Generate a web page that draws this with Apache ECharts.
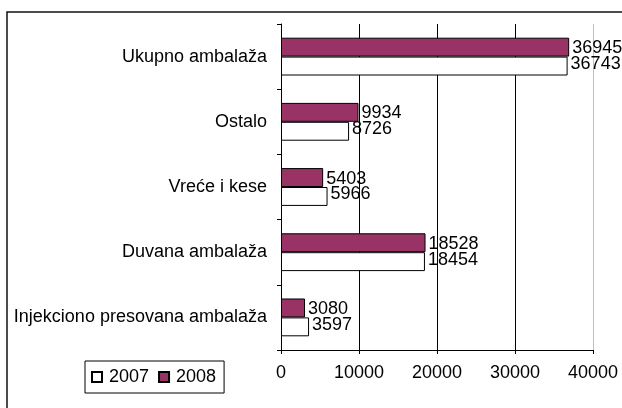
<!DOCTYPE html>
<html>
<head>
<meta charset="utf-8">
<script src="https://cdn.jsdelivr.net/npm/echarts@6/dist/echarts.min.js"></script>
<style>
  html, body { margin: 0; padding: 0; background: #fff; }
  #chart { width: 622px; height: 408px; }
</style>
</head>
<body>
<div id="chart"></div>
<script>
// kategorije odozdo prema gore
var categories = ['Injekciono presovana ambalaža', 'Duvana ambalaža', 'Vreće i kese', 'Ostalo', 'Ukupno ambalaža'];
var years = ['2007', '2008'];
var values2007 = [3597, 18454, 5966, 8726, 36743];
var values2008 = [3080, 18528, 5403, 9934, 36945];
var xTicks = [0, 10000, 20000, 30000, 40000];

var font = "'Liberation Sans', Arial, sans-serif";

var myChart = echarts.init(document.getElementById('chart'));

var option = {
    animation: false,
    backgroundColor: '#fff',
    textStyle: { fontFamily: font },
    graphic: [{
        type: 'rect',
        shape: { x: 7, y: 12, width: 700, height: 500 },
        style: { fill: 'none', stroke: '#111', lineWidth: 1.5 },
        silent: true
    }],
    legend: {
        data: years,
        left: 85,
        top: 361,
        orient: 'horizontal',
        icon: 'rect',
        itemWidth: 10,
        itemHeight: 10,
        itemGap: 9,
        padding: [7, 8, 7, 6],
        borderColor: '#000',
        borderWidth: 1,
        textStyle: { fontSize: 18, color: '#000', fontFamily: font, padding: [0, 0, 0, 2] }
    },
    grid: {
        left: 281,
        right: 29,
        top: 24,
        bottom: 58,
        containLabel: false
    },
    xAxis: {
        type: 'value',
        min: xTicks[0],
        max: xTicks[xTicks.length - 1],
        interval: xTicks[1] - xTicks[0],
        axisLine: { show: true, lineStyle: { color: '#000', width: 1 } },
        axisTick: { show: true, length: 4, lineStyle: { color: '#000' } },
        axisLabel: {
            fontSize: 18, color: '#000', margin: 14, fontFamily: font,
            formatter: function (v) { return String(v); }
        },
        splitLine: {
            show: true,
            lineStyle: { color: ['#000', '#000', '#000', '#000', '#c0c0c0'], width: 1 }
        }
    },
    yAxis: {
        type: 'category',
        data: categories,
        axisLine: { show: true, lineStyle: { color: '#000', width: 1 } },
        axisTick: { show: true, length: 4, lineStyle: { color: '#000' } },
        axisLabel: { fontSize: 18, color: '#000', margin: 14, fontFamily: font },
        splitLine: { show: false }
    },
    series: [
        {
            name: '2008',
            type: 'bar',
            data: values2008,
            barGap: '0%',
            barCategoryGap: '42%',
            itemStyle: { color: '#993366', borderColor: '#000', borderWidth: 1 },
            label: {
                show: true,
                position: 'right',
                distance: 3,
                fontSize: 18,
                color: '#000',
                fontFamily: font,
                offset: [0, 1]
            }
        },
        {
            name: '2007',
            type: 'bar',
            data: values2007,
            barGap: '0%',
            barCategoryGap: '42%',
            itemStyle: { color: '#fff', borderColor: '#000', borderWidth: 1 },
            label: {
                show: true,
                position: 'right',
                distance: 3,
                fontSize: 18,
                color: '#000',
                fontFamily: font,
                offset: [0, -2]
            }
        }
    ]
};

myChart.setOption(option);
</script>
</body>
</html>
